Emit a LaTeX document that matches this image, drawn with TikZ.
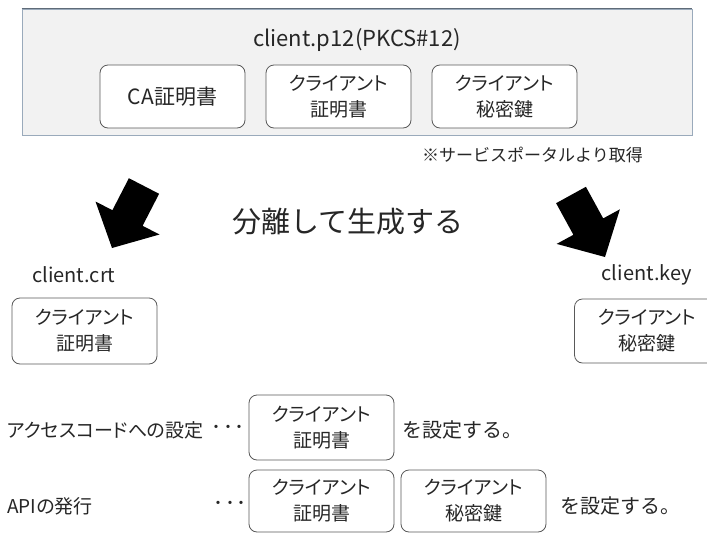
\documentclass[tikz,border=0pt]{standalone}
\usepackage{fontspec}
\setmainfont{Noto Sans CJK JP}[RawFeature=+palt]
\newfontfamily\fw{Noto Sans CJK JP}
\definecolor{txt}{HTML}{262626}
\definecolor{boxline}{HTML}{595959}
\definecolor{outerfill}{HTML}{F2F2F2}
\definecolor{outerline}{HTML}{9AAABB}
\definecolor{outertop}{HTML}{5F6B78}
\tikzset{
  outerbox/.style={draw=outerline, fill=outerfill, line width=0.8pt, minimum width=670pt, minimum height=126pt, inner sep=0pt},
  itembox/.style={draw=boxline, fill=white, rounded corners=8pt, line width=0.8pt, minimum width=145pt, inner sep=0pt, align=center, text=txt, font=\fontsize{19}{26}\selectfont},
  lbl/.style={text=txt, inner sep=0pt, font=\fontsize{20}{24}\selectfont},
  fwlbl/.style={text=txt, inner sep=0pt, font=\fw\fontsize{20}{24}\selectfont},
  bigarrow/.style={fill=black, draw=none}
}
\begin{document}
\begin{tikzpicture}[x=1pt, y=-1pt]
\clip (0,0) rectangle (707,533);
\fill[white] (0,0) rectangle (707,533);
% top container
\node[outerbox] (outer) at (357,72) {};
\draw[outertop, line width=1pt] (outer.north west) -- (outer.north east);
\node[lbl, font=\fontsize{22}{26}\selectfont] (title) at (357,40) {client.p12(PKCS\#12)};
\node[itembox, minimum height=63pt, font=\fontsize{21}{26}\selectfont] (ca) at (172.5,96.5) {CA証明書};
\node[itembox, minimum height=63pt] (cert) at (338.5,96.5) {クライアント\\証明書};
\node[itembox, minimum height=63pt] (key) at (504.5,96.5) {クライアント\\秘密鍵};
\node[fwlbl, font=\fw\fontsize{17}{20}\selectfont, anchor=east] (note) at (643,155) {※サービスポータルより取得};
% big arrows
\fill[bigarrow] (159.1,193.8) -- (142.6,225.8) -- (159.5,234.5) -- (112,248) -- (95.5,201.5) -- (112.4,210.2) -- (128.9,178.2) -- cycle;
\fill[bigarrow] (585.9,186.8) -- (603.2,218.4) -- (619.9,209.3) -- (605,257) -- (556.7,243.9) -- (573.4,234.8) -- (556.1,203.2) -- cycle;
\node[fwlbl, font=\fw\fontsize{29}{32}\selectfont] (split) at (348,222) {分離して生成する};
% outputs
\node[lbl, anchor=west] (crtname) at (32,275) {client.crt};
\node[itembox, minimum height=66pt] (crtbox) at (84.5,331) {クライアント\\証明書};
\node[lbl, anchor=east] (keyname) at (692,275) {client.key};
\node[itembox, minimum height=64pt] (keybox) at (647,331) {クライアント\\秘密鍵};
% usage rows
\node[lbl, font=\fontsize{19}{24}\selectfont, anchor=west] (row1) at (7,430) {アクセスコードへの設定};
\node[lbl] (dots1) at (228,430) {･\hspace{1.5pt}･\hspace{1.5pt}･};
\node[itembox, minimum height=65pt] (r1cert) at (321.5,427.5) {クライアント\\証明書};
\node[fwlbl, anchor=west] (r1set) at (402,430) {を設定する。};
\node[lbl, font=\fontsize{19}{24}\selectfont, anchor=west] (row2) at (7,506) {APIの発行};
\node[lbl] (dots2) at (230,506) {･\hspace{1.5pt}･\hspace{1.5pt}･};
\node[itembox, minimum height=62pt] (r2cert) at (321.5,501) {クライアント\\証明書};
\node[itembox, minimum height=62pt] (r2key) at (473.5,501) {クライアント\\秘密鍵};
\node[fwlbl, anchor=west] (r2set) at (560,506) {を設定する。};
\end{tikzpicture}
\end{document}
